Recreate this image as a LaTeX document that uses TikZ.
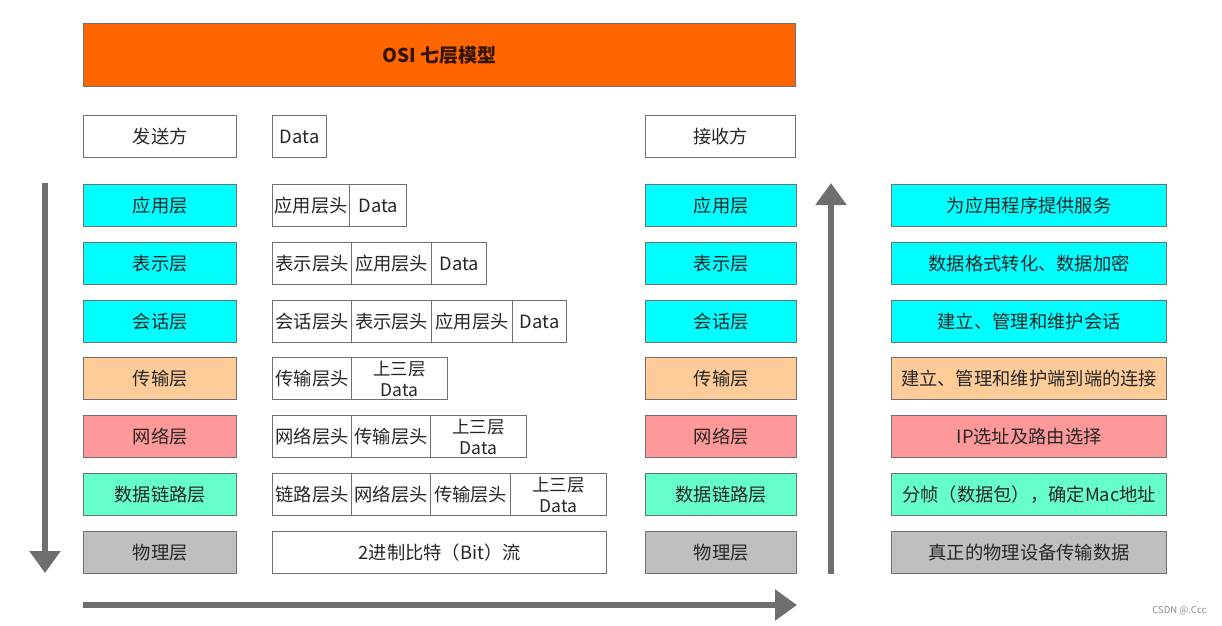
\documentclass[tikz,border=0pt]{standalone}
\usepackage{fontspec}
\setmainfont{Noto Sans CJK SC}
\usetikzlibrary{arrows.meta}
\definecolor{ttl}{HTML}{FF6600}
\definecolor{cya}{HTML}{00FFFF}
\definecolor{pea}{HTML}{FFCC99}
\definecolor{pnk}{HTML}{FF9999}
\definecolor{mnt}{HTML}{66FFCC}
\definecolor{gry}{HTML}{BFBFBF}
\definecolor{edge}{HTML}{707070}
\definecolor{arr}{HTML}{6E6E6E}
\definecolor{txt}{HTML}{262626}
\tikzset{
  box/.style={draw=edge, line width=1.3pt, inner sep=0pt, anchor=north west, text=txt,
    font=\fontsize{18.3}{20}\selectfont, align=center},
  hbox/.style={box, minimum height=42pt},
  two/.style={font=\fontsize{17.5}{20.5}\selectfont},
  big/.style={line width=6pt, draw=arr, -{Triangle[width=30pt,length=22pt]}},
}
\begin{document}
\begin{tikzpicture}[x=1pt,y=-1pt]
\useasboundingbox (0,0) rectangle (1222,625);
% title
\node[box, fill=ttl, minimum width=712pt, minimum height=63pt, text=black!80!ttl,
  font=\fontsize{19}{21}\selectfont\bfseries] (title) at (83,23) {OSI 七层模型};
% top row
\node[hbox, minimum width=153pt] (send) at (83,115) {发送方};
\node[hbox, minimum width=54pt] (data0) at (272,115) {Data};
\node[hbox, minimum width=150pt] (recv) at (645,115) {接收方};
% left layers
\node[hbox, fill=cya, minimum width=153pt] (L1) at (83,184) {应用层};
\node[hbox, fill=cya, minimum width=153pt] (L2) at (83,242) {表示层};
\node[hbox, fill=cya, minimum width=153pt] (L3) at (83,300) {会话层};
\node[hbox, fill=pea, minimum width=153pt] (L4) at (83,357) {传输层};
\node[hbox, fill=pnk, minimum width=153pt] (L5) at (83,415) {网络层};
\node[hbox, fill=mnt, minimum width=153pt] (L6) at (83,473) {数据链路层};
\node[hbox, fill=gry, minimum width=153pt] (L7) at (83,531) {物理层};
% right layers
\node[hbox, fill=cya, minimum width=151pt] (R1) at (645,184) {应用层};
\node[hbox, fill=cya, minimum width=151pt] (R2) at (645,242) {表示层};
\node[hbox, fill=cya, minimum width=151pt] (R3) at (645,300) {会话层};
\node[hbox, fill=pea, minimum width=151pt] (R4) at (645,357) {传输层};
\node[hbox, fill=pnk, minimum width=151pt] (R5) at (645,415) {网络层};
\node[hbox, fill=mnt, minimum width=151pt] (R6) at (645,473) {数据链路层};
\node[hbox, fill=gry, minimum width=151pt] (R7) at (645,531) {物理层};
% descriptions
\node[hbox, fill=cya, minimum width=275pt] (D1) at (891,184) {为应用程序提供服务};
\node[hbox, fill=cya, minimum width=275pt] (D2) at (891,242) {数据格式转化、数据加密};
\node[hbox, fill=cya, minimum width=275pt] (D3) at (891,300) {建立、管理和维护会话};
\node[hbox, fill=pea, minimum width=275pt] (D4) at (891,357) {建立、管理和维护端到端的连接};
\node[hbox, fill=pnk, minimum width=275pt] (D5) at (891,415) {IP选址及路由选择};
\node[hbox, fill=mnt, minimum width=275pt] (D6) at (891,473) {分帧（数据包），确定Mac地址};
\node[hbox, fill=gry, minimum width=275pt] (D7) at (891,531) {真正的物理设备传输数据};
% middle encapsulation
\node[hbox, minimum width=77pt] (a1) at (272,184) {应用层头};
\node[hbox, minimum width=57pt] (a2) at (349,184) {Data};
\node[hbox, minimum width=79pt] (b1) at (272,242) {表示层头};
\node[hbox, minimum width=80pt] (b2) at (351,242) {应用层头};
\node[hbox, minimum width=55pt] (b3) at (431,242) {Data};
\node[hbox, minimum width=79pt] (c1) at (272,300) {会话层头};
\node[hbox, minimum width=80pt] (c2) at (351,300) {表示层头};
\node[hbox, minimum width=81pt] (c3) at (431,300) {应用层头};
\node[hbox, minimum width=54pt] (c4) at (512,300) {Data};
\node[hbox, minimum width=79pt] (d1) at (272,357) {传输层头};
\node[hbox, two, minimum width=96pt] (d2) at (351,357) {上三层\\Data};
\node[hbox, minimum width=79pt] (e1) at (272,415) {网络层头};
\node[hbox, minimum width=79pt] (e2) at (351,415) {传输层头};
\node[hbox, two, minimum width=96pt] (e3) at (430,415) {上三层\\Data};
\node[hbox, minimum width=79pt] (f1) at (272,473) {链路层头};
\node[hbox, minimum width=79pt] (f2) at (351,473) {网络层头};
\node[hbox, minimum width=80pt] (f3) at (430,473) {传输层头};
\node[hbox, two, minimum width=96pt] (f4) at (510,473) {上三层\\Data};
\node[hbox, minimum width=334pt] (g1) at (272,531) {2进制比特（Bit）流};
% arrows
\coordinate (downS) at (45,183);
\coordinate (downE) at (45,573);
\coordinate (upS) at (831,574);
\coordinate (upE) at (831,183);
\coordinate (rtS) at (83,605);
\coordinate (rtE) at (797,605);
\draw[big] (downS) -- (downE);
\draw[big] (upS) -- (upE);
\draw[big] (rtS) -- (rtE);
% watermark
\node[anchor=east, text=black!45, font=\fontsize{9.5}{11}\selectfont] (wm) at (1210,611) {CSDN @.Ccc};
\end{tikzpicture}
\end{document}
